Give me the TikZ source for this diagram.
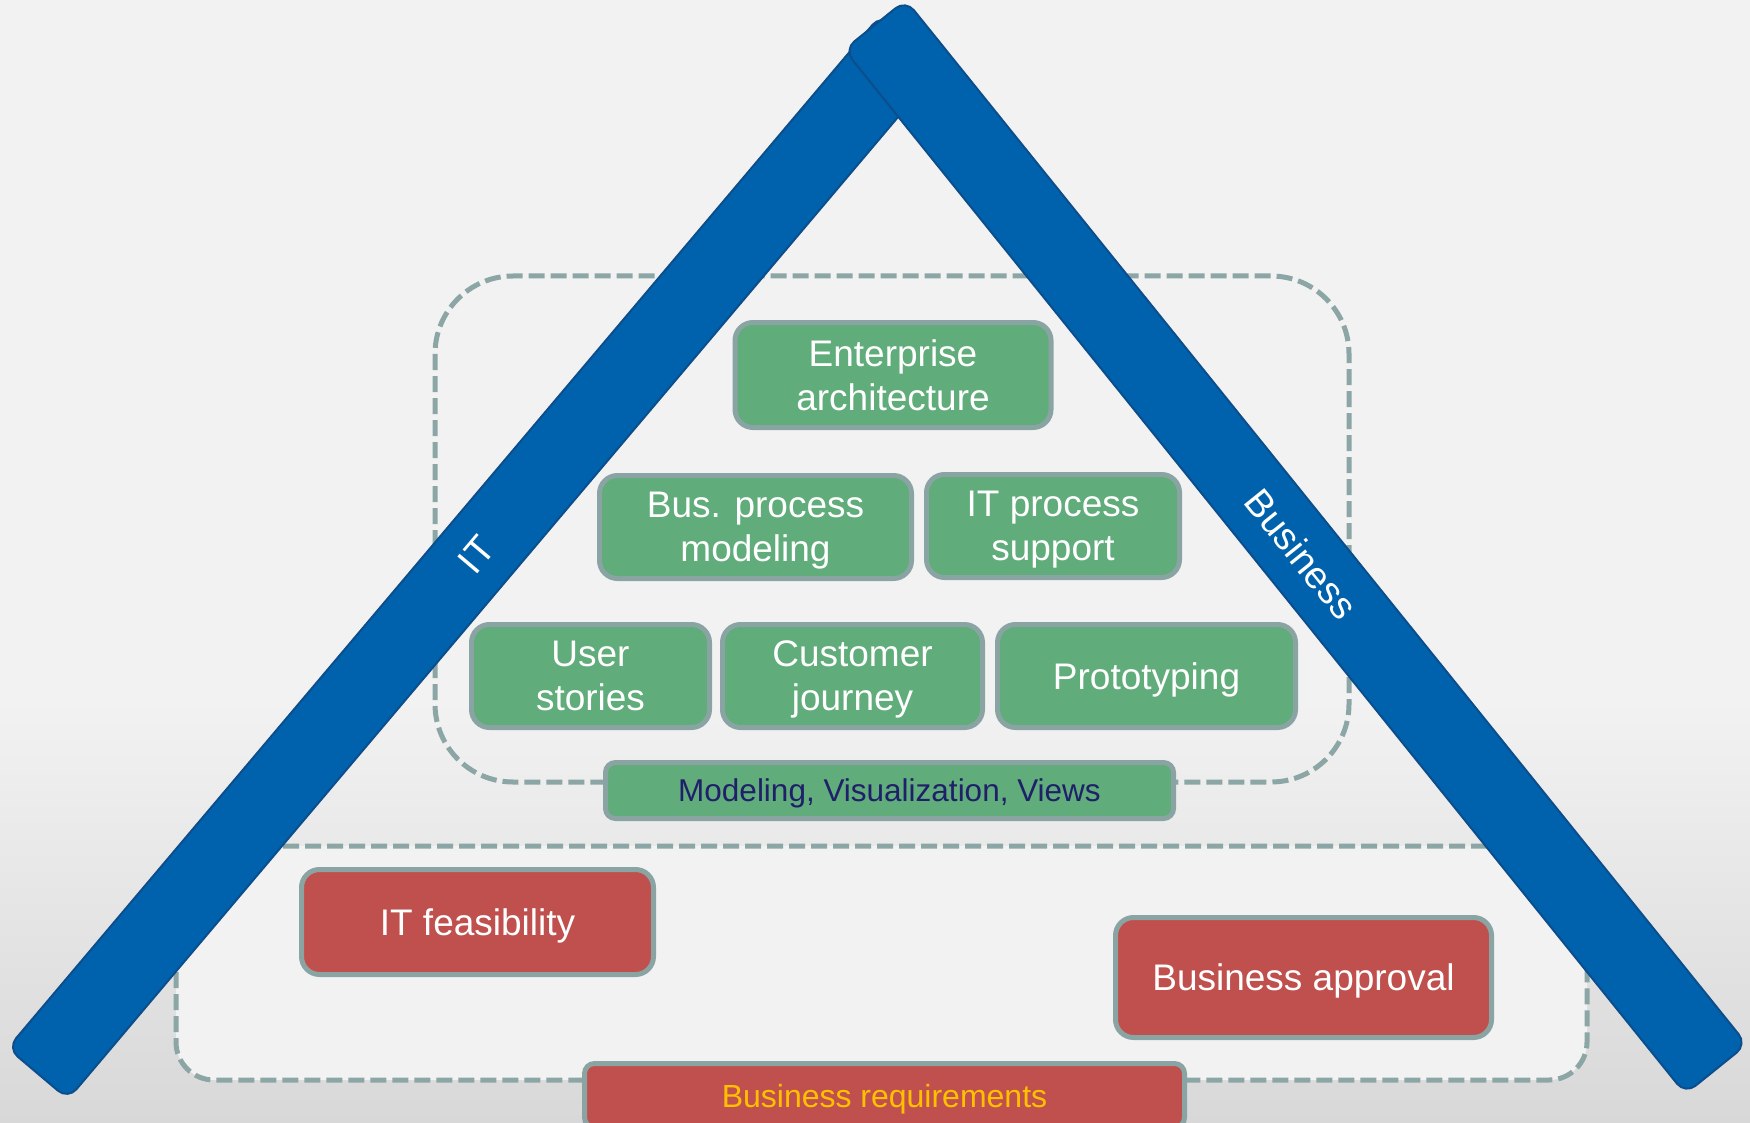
\documentclass[tikz,border=0pt]{standalone}
\usepackage{fontspec}
\setmainfont{Liberation Sans}
\definecolor{bgtop}{HTML}{F2F2F2}
\definecolor{bgbot}{HTML}{D8D8D8}
\definecolor{frameline}{RGB}{140,166,166}
\definecolor{tileline}{RGB}{138,164,164}
\definecolor{tilegreen}{RGB}{96,172,122}
\definecolor{tilered}{RGB}{192,80,77}
\definecolor{barblue}{RGB}{0,98,172}
\definecolor{barline}{RGB}{12,78,140}
\definecolor{navytext}{RGB}{32,32,106}
\definecolor{goldtext}{RGB}{255,192,0}
\tikzset{
  beam/.style={draw=barline, line width=2pt, fill=barblue, rounded corners=13pt,
    minimum height=79pt, inner sep=0pt, text=white, font=\fontsize{38}{44}\selectfont},
  dashframe/.style={draw=frameline, line width=5pt, dash pattern=on 16pt off 6pt},
  tilebox/.style={draw=tileline, line width=5pt, rounded corners=18pt, fill=#1,
    inner sep=0pt, text depth=0pt, align=center, text=white, font=\fontsize{37}{44}\selectfont},
}
\begin{document}
\begin{tikzpicture}[x=1pt,y=-1pt]
  \useasboundingbox (0,0) rectangle (1750,1123);
  \clip (0,0) rectangle (1750,1123);
  % background
  \fill[bgtop] (0,0) rectangle (1750,1123);
  \shade[top color=bgtop, bottom color=bgbot] (0,700) rectangle (1750,1123);
  % dashed groups
  \draw[dashframe, fill=bgtop, rounded corners=38pt] (176,846) rectangle (1587,1080);
  \draw[dashframe, rounded corners=78pt] (435,276) rectangle (1349,782);
  % the roof
  \node[beam, minimum width=1353pt, rotate=49.8] (itbar) at (474.5,557) {\hspace*{6pt}IT};
  \node[beam, minimum width=1341pt, rotate=-51.15] (busbar) at (1295.5,547) {\hspace*{18pt}Business};
  % inner blocks
  \node[tilebox=tilegreen, minimum width=316pt, minimum height=105pt] (ea) at (893,375) {Enterprise\\architecture};
  \node[tilebox=tilegreen, minimum width=312pt, minimum height=103pt] (bpm) at (755.5,527) {Bus. process\\modeling};
  \node[tilebox=tilegreen, minimum width=253pt, minimum height=103pt] (itps) at (1053,526) {IT process\\support};
  \node[tilebox=tilegreen, minimum width=238pt, minimum height=103pt] (us) at (590.5,676) {User\\stories};
  \node[tilebox=tilegreen, minimum width=260pt, minimum height=103pt] (cj) at (852.5,676) {Customer\\journey};
  \node[tilebox=tilegreen, minimum width=298pt, minimum height=103pt] (proto) at (1146.5,676) {Prototyping};
  \node[tilebox=tilegreen, minimum width=568pt, minimum height=56pt, rounded corners=10pt,
    text=navytext, font=\fontsize{31.5}{36}\selectfont] (mvv) at (889.5,790.5) {Modeling, Visualization, Views};
  % outer blocks
  \node[tilebox=tilered, minimum width=352pt, minimum height=105pt] (itf) at (477.5,922) {IT feasibility};
  \node[tilebox=tilered, minimum width=376pt, minimum height=120pt] (ba) at (1303.5,977.5) {Business approval};
  \node[tilebox=tilered, minimum width=600pt, minimum height=64pt, rounded corners=10pt,
    text=goldtext, font=\fontsize{32}{36}\selectfont] (br) at (884.5,1095.5) {Business requirements};
\end{tikzpicture}
\end{document}
